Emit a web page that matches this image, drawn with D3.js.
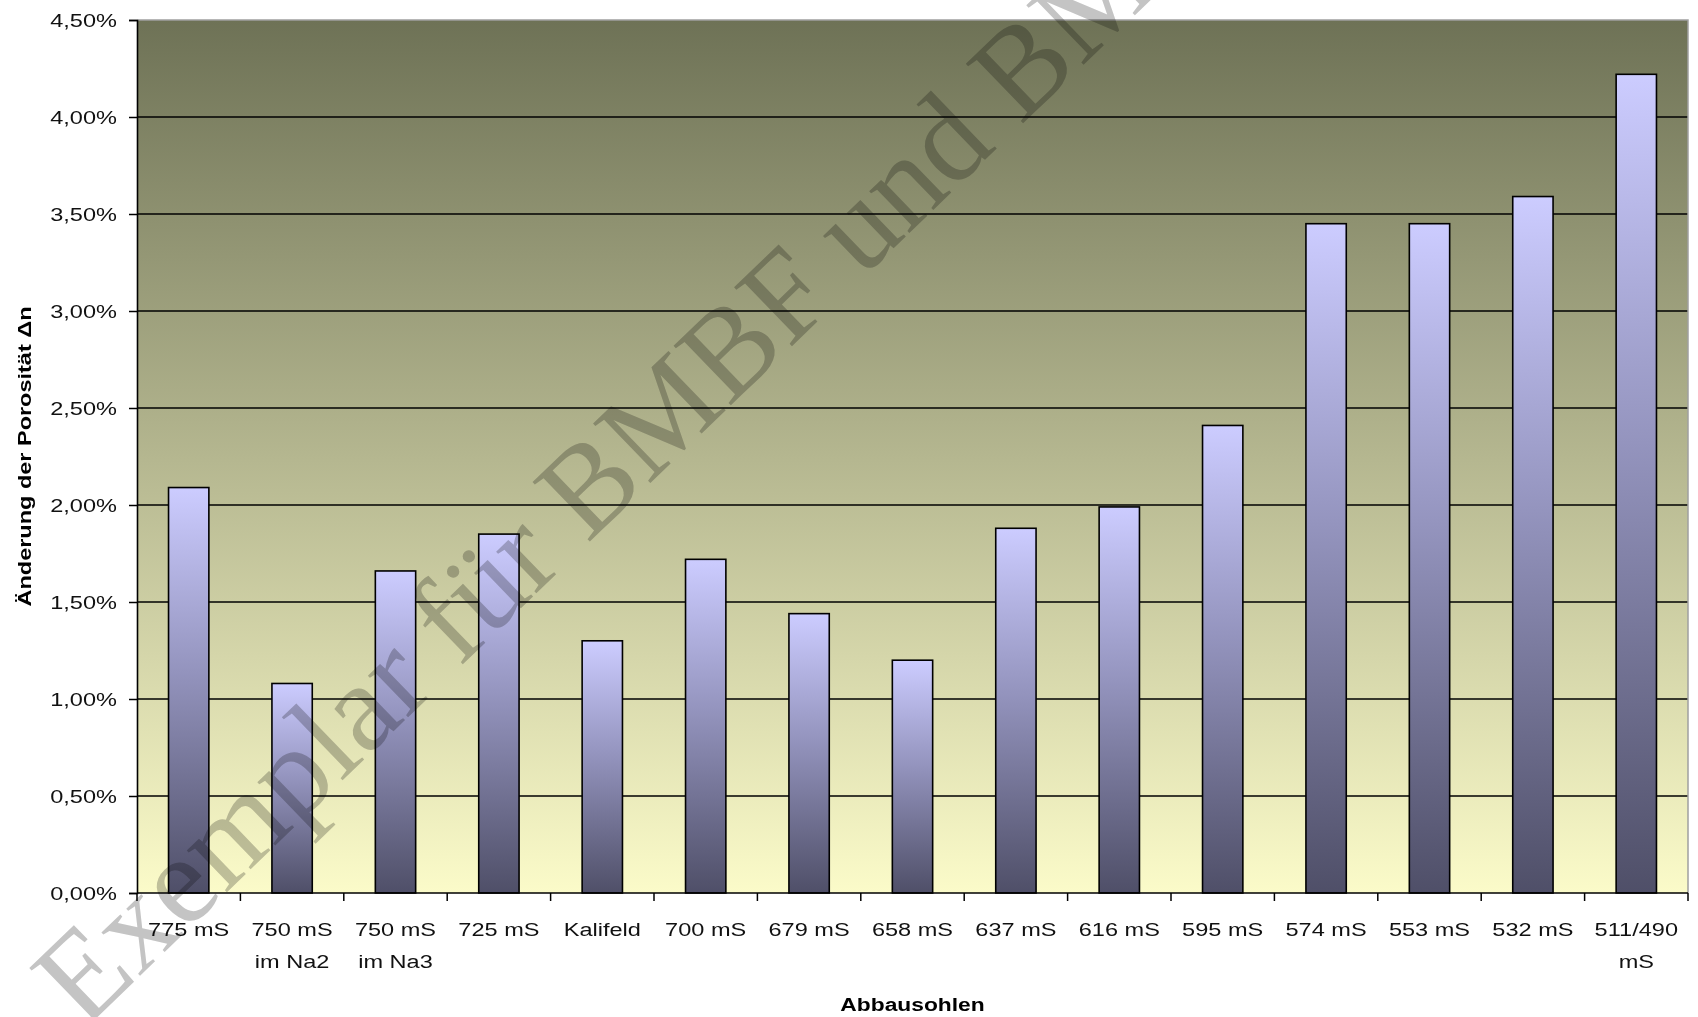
<!DOCTYPE html>
<html>
<head>
<meta charset="utf-8">
<script src="https://cdn.jsdelivr.net/npm/d3@7"></script>
<style>
  html, body { margin: 0; padding: 0; background: #ffffff; }
  svg { display: block; }
  text { font-family: "Liberation Sans", Arial, sans-serif; }
</style>
</head>
<body>
<svg id="chart" width="1698" height="1017"></svg>
<script>
// ---- data ----
const categories = [
  ["775 mS"], ["750 mS", "im Na2"], ["750 mS", "im Na3"], ["725 mS"], ["Kalifeld"],
  ["700 mS"], ["679 mS"], ["658 mS"], ["637 mS"], ["616 mS"], ["595 mS"],
  ["574 mS"], ["553 mS"], ["532 mS"], ["511/490", "mS"]
];
const categoryKeys = categories.map(c => c.join(" "));
const values = [2.09, 1.08, 1.66, 1.85, 1.30, 1.72, 1.44, 1.20, 1.88, 1.99, 2.41, 3.45, 3.45, 3.59, 4.22];
const yTicks = [0, 0.5, 1.0, 1.5, 2.0, 2.5, 3.0, 3.5, 4.0, 4.5];
const yTitle = "Änderung der Porosität Δn";
const xTitle = "Abbausohlen";
const watermark = "Exemplar für BMBF und BMWi";

// ---- layout ----
const W = 1698, H = 1017;
const m = { left: 137, right: 1688, top: 20, bottom: 893 };
const STRETCH = 1.24;

const svg = d3.select("#chart");
const defs = svg.append("defs");

const bg = defs.append("linearGradient").attr("id", "bgGrad")
  .attr("x1", 0).attr("y1", 0).attr("x2", 0).attr("y2", 1);
bg.append("stop").attr("offset", 0).attr("stop-color", "#6e7256");
bg.append("stop").attr("offset", 1).attr("stop-color", "#fbfbc9");

const bar = defs.append("linearGradient").attr("id", "barGrad")
  .attr("x1", 0).attr("y1", 0).attr("x2", 0).attr("y2", 1);
bar.append("stop").attr("offset", 0).attr("stop-color", "#ccccff");
bar.append("stop").attr("offset", 0.45).attr("stop-color", "#9494be");
bar.append("stop").attr("offset", 1).attr("stop-color", "#4f4f68");

const x = d3.scaleBand().domain(categoryKeys).range([m.left, m.right])
  .paddingInner(0.61).paddingOuter(0.305);
const y = d3.scaleLinear().domain([0, 4.5]).range([m.bottom, m.top]);

const fmt = v => d3.format(".2f")(v).replace(".", ",") + "%";

// plot background
svg.append("rect")
  .attr("x", m.left).attr("y", m.top)
  .attr("width", m.right - m.left).attr("height", m.bottom - m.top)
  .attr("fill", "url(#bgGrad)");

// gridlines
svg.append("g").selectAll("line").data(yTicks.filter(t => t > 0 && t < 4.5)).join("line")
  .attr("x1", m.left).attr("x2", m.right)
  .attr("y1", d => y(d)).attr("y2", d => y(d))
  .attr("stroke", "#000").attr("stroke-width", 1.5);

// border top/right
svg.append("path")
  .attr("d", `M${m.left},${m.top}H${m.right}V${m.bottom}`)
  .attr("fill", "none").attr("stroke", "#a0a0a0").attr("stroke-width", 1.5);

// bars
svg.append("g").selectAll("rect").data(values).join("rect")
  .attr("x", (d, i) => x(categoryKeys[i]))
  .attr("y", d => y(d))
  .attr("width", x.bandwidth())
  .attr("height", d => y(0) - y(d))
  .attr("fill", "url(#barGrad)")
  .attr("stroke", "#000").attr("stroke-width", 1.6);

// y axis
const yAxis = svg.append("g").attr("transform", `translate(${m.left},0)`)
  .call(d3.axisLeft(y).tickValues(yTicks).tickFormat(fmt).tickSize(8).tickPadding(0));
yAxis.select(".domain").attr("stroke", "#000").attr("stroke-width", 1.6);
yAxis.selectAll(".tick line").attr("stroke", "#000").attr("stroke-width", 1.5);
yAxis.selectAll(".tick text")
  .attr("x", 0).attr("dy", "0.35em")
  .attr("transform", `translate(-20,0) scale(${STRETCH},1)`)
  .attr("font-size", 19).attr("fill", "#111")
  .style("font-family", "'Liberation Sans', Arial, sans-serif");

// x axis line
svg.append("line")
  .attr("x1", m.left).attr("x2", m.right).attr("y1", m.bottom).attr("y2", m.bottom)
  .attr("stroke", "#000").attr("stroke-width", 1.6);
// x ticks at band boundaries
const bounds = d3.range(categoryKeys.length + 1).map(i => m.left + i * x.step());
svg.append("g").selectAll("line").data(bounds).join("line")
  .attr("x1", d => d).attr("x2", d => d)
  .attr("y1", m.bottom).attr("y2", m.bottom + 8)
  .attr("stroke", "#000").attr("stroke-width", 1.5);

// x labels
const xl = svg.append("g").selectAll("text").data(categories).join("text")
  .attr("transform", (d, i) => `translate(${x(categoryKeys[i]) + x.bandwidth() / 2},936) scale(${STRETCH},1)`)
  .attr("text-anchor", "middle").attr("font-size", 19).attr("fill", "#111");
xl.selectAll("tspan").data(d => d).join("tspan")
  .attr("x", 0).attr("dy", (d, i) => i === 0 ? 0 : 32).text(d => d);

// x title
svg.append("text")
  .attr("transform", `translate(${(m.left + m.right) / 2},1011) scale(1.2,1)`)
  .attr("text-anchor", "middle").attr("font-size", 19).attr("font-weight", "bold")
  .attr("fill", "#000").text(xTitle);

// y title
svg.append("text")
  .attr("transform", `translate(31,${(m.top + m.bottom) / 2}) rotate(-90)`)
  .attr("text-anchor", "middle").attr("font-size", 19).attr("font-weight", "bold")
  .attr("textLength", 300).attr("lengthAdjust", "spacingAndGlyphs")
  .attr("fill", "#000").text(yTitle);

// watermark
svg.append("text")
  .attr("transform", "translate(84,1030) rotate(-44)")
  .attr("font-size", 126)
  .style("font-family", "'Liberation Serif', 'Times New Roman', serif")
  .style("mix-blend-mode", "multiply")
  .attr("fill", "#c4c4c4")
  .text(watermark);
</script>
</body>
</html>
